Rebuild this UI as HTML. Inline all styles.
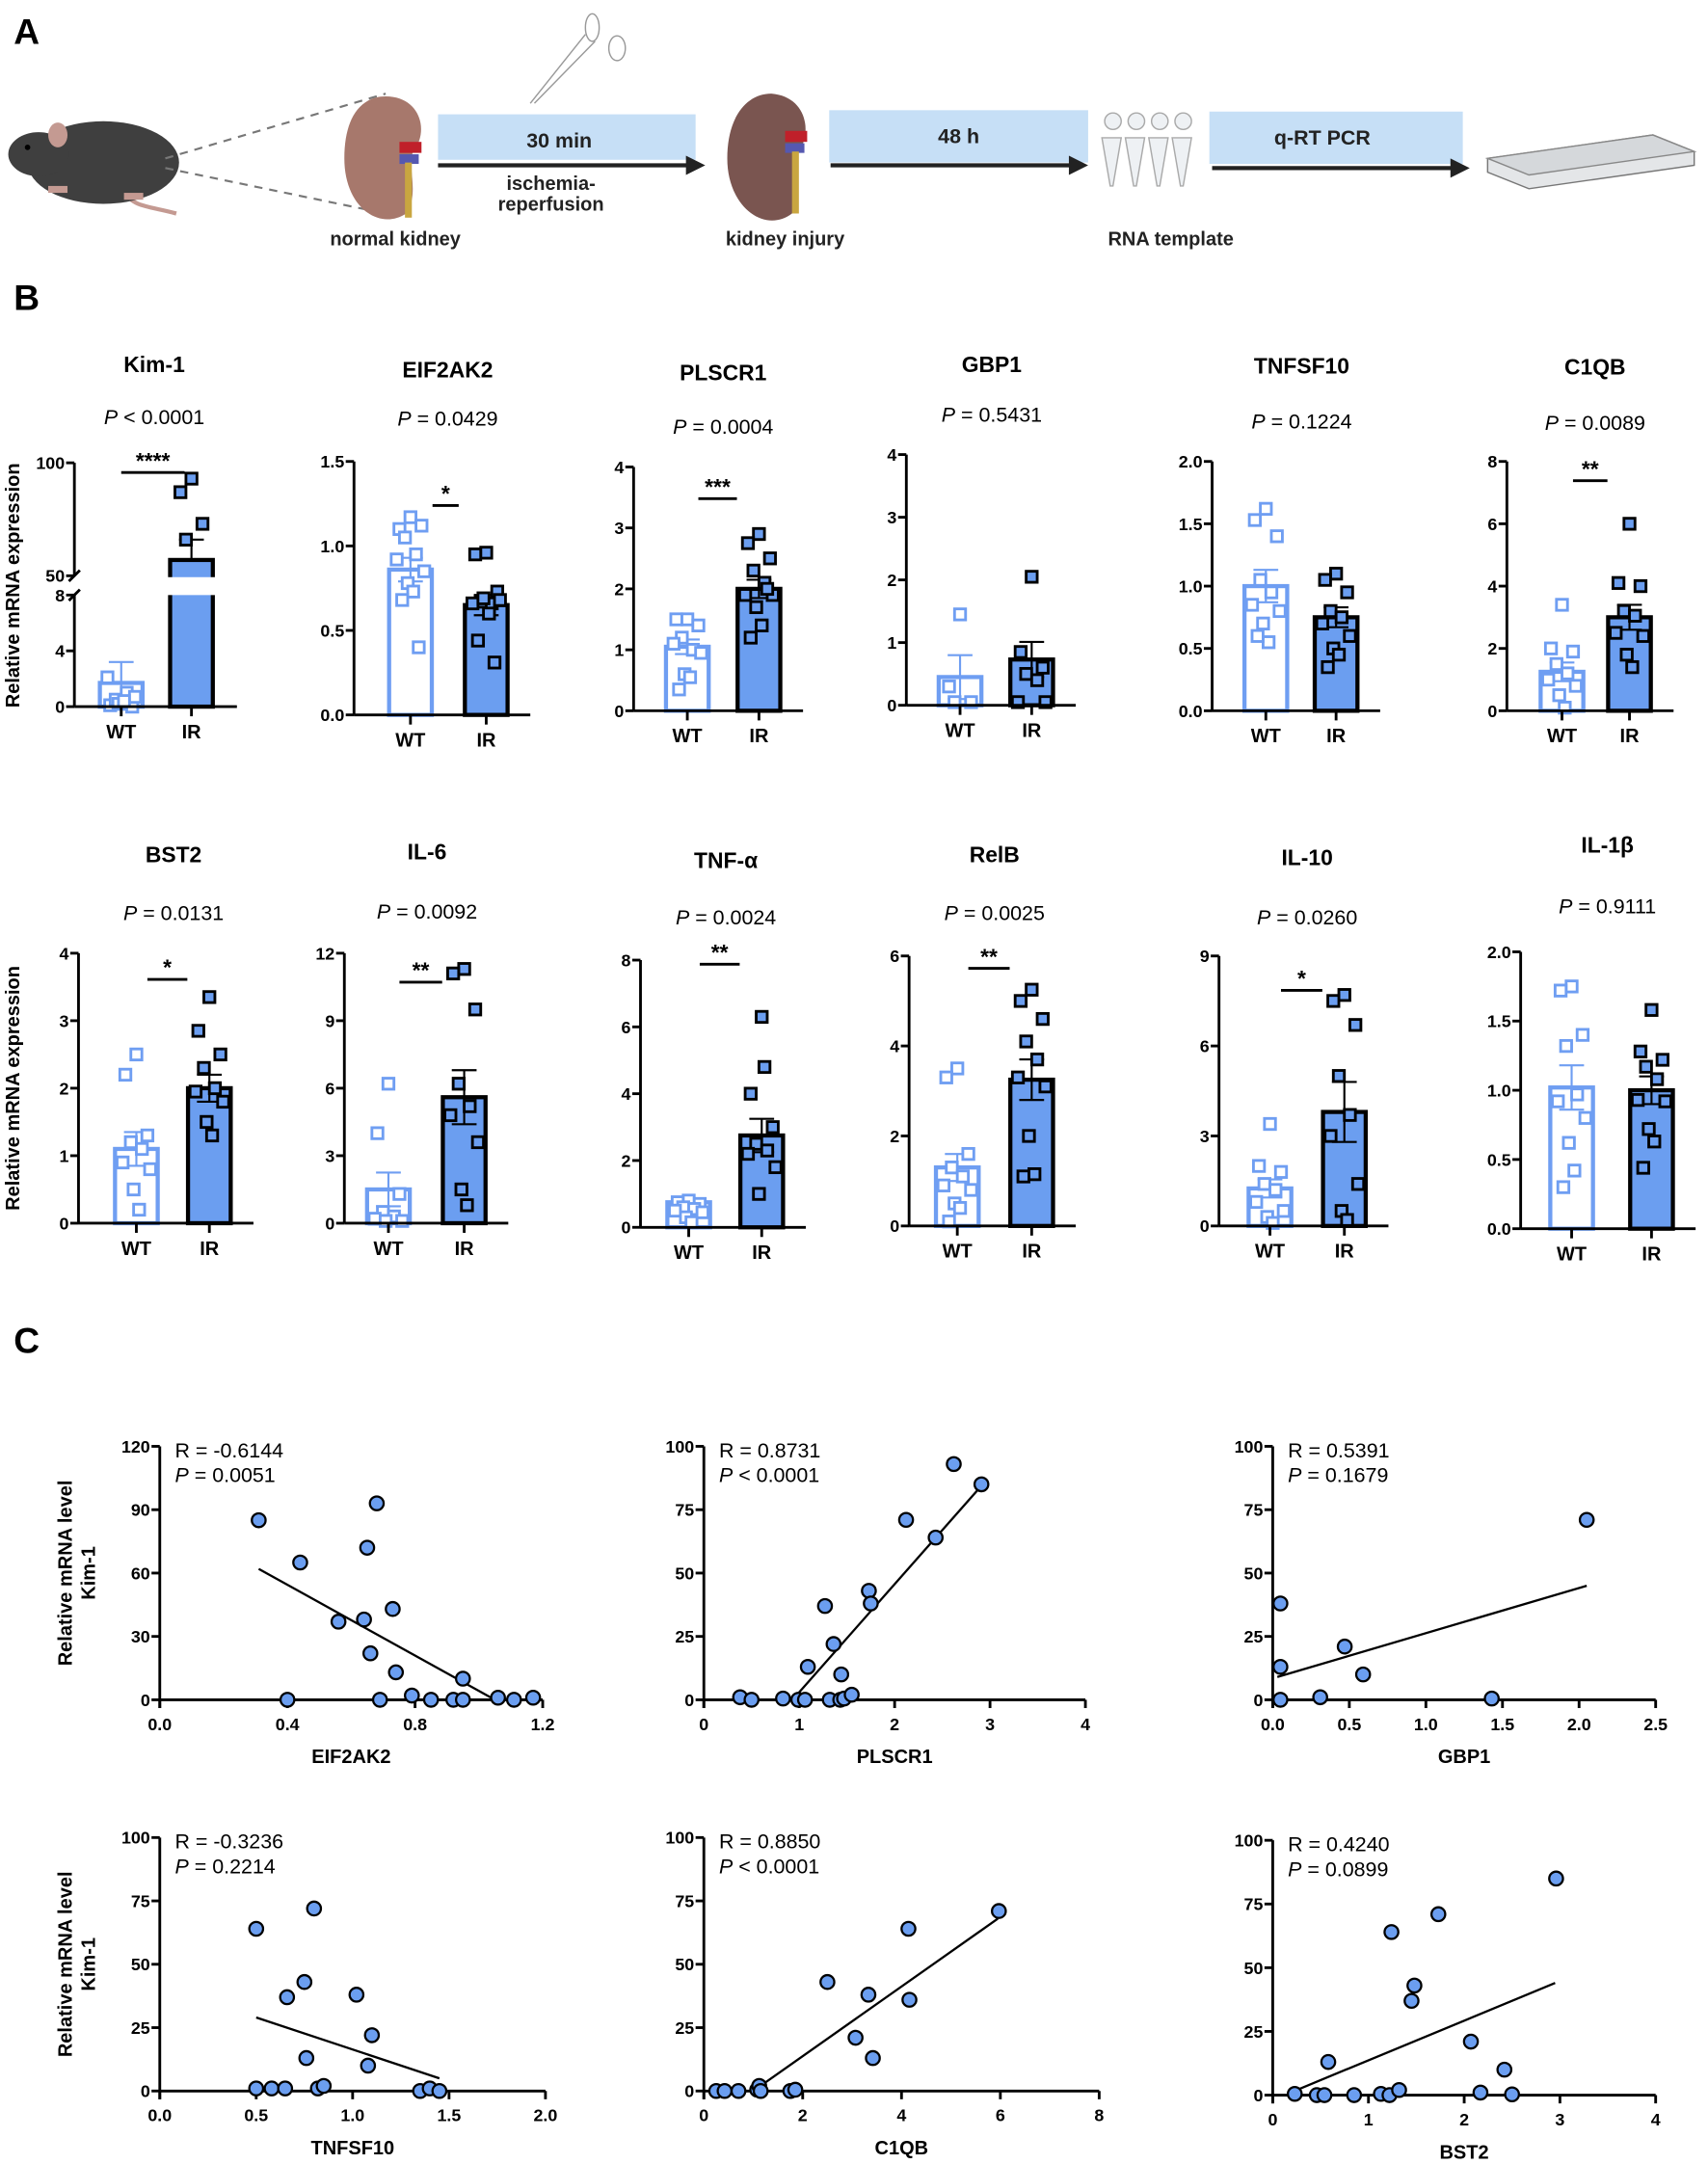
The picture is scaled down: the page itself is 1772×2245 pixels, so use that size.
<!DOCTYPE html>
<html><head><meta charset="utf-8"><title>Kidney IR figure</title>
<style>
html,body{margin:0;padding:0;background:#fff;}
svg{display:block;font-family:"Liberation Sans",Arial,sans-serif;}
.t{font-weight:bold;font-size:16px;text-anchor:middle;}
.p{font-size:15px;text-anchor:middle;}
.tick{font-weight:bold;font-size:12.5px;text-anchor:end;}
.xl{font-weight:bold;font-size:14px;text-anchor:middle;}
.lab{font-weight:bold;font-size:26px;}
.il{font-weight:bold;font-size:14px;text-anchor:middle;fill:#222;}
</style></head>
<body>
<svg id="fig" width="1772" height="2245" viewBox="0 0 1240 1571" xmlns="http://www.w3.org/2000/svg">
  <g>
    <text class="lab" x="10" y="32">A</text>
    <g>
      <path d="M128,155 C110,150 95,150 92,140" stroke="#c49a92" stroke-width="3" fill="none"/>
      <ellipse cx="75" cy="118" rx="55" ry="30" fill="#3f3f3f"/>
      <ellipse cx="28" cy="112" rx="22" ry="16" fill="#3f3f3f"/>
      <ellipse cx="42" cy="98" rx="7" ry="9" fill="#c49a92"/>
      <circle cx="20" cy="107" r="2" fill="#000"/>
      <rect x="35" y="135" width="14" height="5" fill="#c49a92"/>
      <rect x="90" y="140" width="14" height="5" fill="#c49a92"/>
    </g>
    <line x1="120" y1="115" x2="280" y2="68" stroke="#777" stroke-dasharray="6,5" stroke-width="1.5"/>
    <line x1="120" y1="122" x2="280" y2="155" stroke="#777" stroke-dasharray="6,5" stroke-width="1.5"/>
    <g>
      <path d="M280,70 C305,70 312,95 300,110 C295,120 305,140 295,155 C275,168 250,150 250,115 C250,85 262,70 280,70 Z" fill="#a7786c"/>
      <rect x="290" y="103" width="16" height="8" fill="#c0202a"/>
      <rect x="290" y="112" width="14" height="7" fill="#5558b0"/>
      <rect x="294" y="118" width="5" height="40" fill="#c9a640"/>
    </g>
    <text class="il" x="287" y="178">normal kidney</text>
    <rect x="318" y="83" width="187" height="33" fill="#c6dff6"/>
    <text class="il" x="406" y="107" style="font-size:15px">30 min</text>
    <line x1="318" y1="120" x2="500" y2="120" stroke="#222" stroke-width="3"/>
    <polygon points="498,113 512,120 498,127" fill="#222"/>
    <text class="il" x="400" y="138">ischemia-</text>
    <text class="il" x="400" y="153">reperfusion</text>
    <g stroke="#999" fill="none" stroke-width="1">
      <line x1="385" y1="75" x2="425" y2="25"/><line x1="388" y1="75" x2="432" y2="30"/>
      <ellipse cx="430" cy="20" rx="5" ry="10"/><ellipse cx="448" cy="35" rx="6" ry="9"/>
    </g>
    <g>
      <path d="M560,68 C585,70 590,95 580,110 C575,120 585,140 575,155 C555,170 528,150 528,115 C528,85 542,68 560,68 Z" fill="#7a5550"/>
      <rect x="570" y="95" width="16" height="8" fill="#c0202a"/>
      <rect x="570" y="104" width="14" height="7" fill="#5558b0"/>
      <rect x="575" y="110" width="5" height="45" fill="#c9a640"/>
    </g>
    <text class="il" x="570" y="178">kidney injury</text>
    <rect x="602" y="80" width="188" height="38" fill="#c6dff6"/>
    <text class="il" x="696" y="104" style="font-size:15px">48 h</text>
    <line x1="603" y1="120" x2="778" y2="120" stroke="#222" stroke-width="3"/>
    <polygon points="776,113 790,120 776,127" fill="#222"/>
    <g>
      <g fill="#eef1f4" stroke="#aaa">
        <path d="M800,100 h14 l-6,35 h-2 z"/><path d="M817,100 h14 l-6,35 h-2 z"/><path d="M834,100 h14 l-6,35 h-2 z"/><path d="M851,100 h14 l-6,35 h-2 z"/>
        <circle cx="808" cy="88" r="6"/><circle cx="825" cy="88" r="6"/><circle cx="842" cy="88" r="6"/><circle cx="859" cy="88" r="6"/>
      </g>
    </g>
    <text class="il" x="850" y="178">RNA template</text>
    <rect x="878" y="81" width="184" height="38" fill="#c6dff6"/>
    <text class="il" x="960" y="105" style="font-size:15px">q-RT PCR</text>
    <line x1="880" y1="122" x2="1055" y2="122" stroke="#222" stroke-width="3"/>
    <polygon points="1053,115 1067,122 1053,129" fill="#222"/>
    <g>
      <polygon points="1080,115 1200,98 1230,110 1230,120 1110,137 1080,125" fill="#e4e6e8" stroke="#777"/>
      <polygon points="1080,115 1200,98 1230,110 1110,127" fill="#d5d8db" stroke="#888"/>
    </g>
  </g>
  <text class="lab" x="10" y="225">B</text>
  <text class="lab" x="10" y="982">C</text>
  <g id="bars"></g>
  <g id="scat"></g>
</svg>
<script>
const kimWT = [0.3,0.1,0,0.5,1.0,2.1,0.7,0.2,0.4];
const kimIR = [93,87,73,66];
const kimStats = [1.7,1.5,57,9];
const eifWT = [1.17,1.1,1.12,1.05,0.95,0.92,0.85,0.78,0.73,0.68,0.4];
const eifIR = [0.96,0.95,0.73,0.67,0.66,0.66,0.68,0.69,0.6,0.44,0.31];
const eifStats = [0.86,0.07,0.65,0.06];
const plsWT = [1.5,1.5,1.4,1.2,1.0,1.1,0.95,0.6,0.55,0.35];
const plsIR = [2.9,2.75,2.5,2.3,2.1,1.9,1.9,1.7,1.4,1.2,2.0];
const plsStats = [1.05,0.12,2.0,0.15];
const gbpWT = [1.45,0.3,0.05,0.05];
const gbpIR = [2.05,0.85,0.6,0.5,0.4,0.05,0.05];
const gbpStats = [0.45,0.35,0.73,0.28];
const tnfsfWT = [1.62,1.53,1.4,1.05,0.95,0.85,0.8,0.7,0.55,0.6];
const tnfsfIR = [1.1,1.05,0.95,0.8,0.75,0.7,0.6,0.5,0.45,0.35];
const tnfsfStats = [1.0,0.13,0.75,0.08];
const c1qbWT = [3.4,2,1.9,1.5,1.2,1.0,0.8,0.5,0.1];
const c1qbIR = [6,4.1,4.0,3.2,3.05,2.5,2.4,1.8,1.4];
const c1qbStats = [1.25,0.3,3.0,0.4];
const bstWT = [2.5,2.2,1.3,1.2,1.1,0.9,0.8,0.5,0.2];
const bstIR = [3.35,2.85,2.5,2.3,2.0,1.95,1.8,1.5,1.3];
const bstStats = [1.1,0.25,2.0,0.2];
const il6WT = [6.2,4.0,1.3,0.5,0.3,0.2,0.1,0.1];
const il6IR = [11.3,11.1,9.5,6.2,5.2,4.8,3.6,1.5,0.8];
const il6Stats = [1.5,0.75,5.6,1.2];
const tnfaWT = [0.8,0.75,0.7,0.6,0.55,0.5,0.45,0.3,0.15];
const tnfaIR = [6.3,4.0,3.0,2.5,2.3,2.2,1.8,1.0,4.8];
const tnfaStats = [0.75,0.1,2.75,0.5];
const relbWT = [3.5,3.3,1.6,1.3,1.1,0.9,0.8,0.5,0.4,0.1];
const relbIR = [5.25,5.0,4.6,4.1,3.7,3.3,3.1,2.0,1.15,1.1];
const relbStats = [1.3,0.3,3.25,0.45];
const il10WT = [3.4,2.0,1.8,1.4,1.2,0.8,0.5,0.3,0.1];
const il10IR = [7.7,7.5,6.7,5.0,3.7,3.0,1.4,0.5,0.2];
const il10Stats = [1.25,0.3,3.8,1.0];
const il1bWT = [1.75,1.72,1.4,1.32,0.97,0.92,0.8,0.62,0.42,0.3];
const il1bIR = [1.58,1.28,1.22,1.17,1.08,0.93,0.92,0.72,0.63,0.44];
const il1bStats = [1.02,0.16,1.0,0.1];
const barTitles = ["Kim-1","EIF2AK2","PLSCR1","GBP1","TNFSF10","C1QB","BST2","IL-6","TNF-α","RelB","IL-10","IL-1β"];
const barPvals = ["< 0.0001","= 0.0429","= 0.0004","= 0.5431","= 0.1224","= 0.0089","= 0.0131","= 0.0092","= 0.0024","= 0.0025","= 0.0260","= 0.9111"];
const barStars = ["****","*","***","","","**","*","**","**","**","*",""];
const tickEIF = ["0.0","0.5","1.0","1.5"];
const tickPLS = ["0","1","2","3","4"];
const tickTNFSF = ["0.0","0.5","1.0","1.5","2.0"];
const tickC1QB = ["0","2","4","6","8"];
const tickIL6 = ["0","3","6","9","12"];
const tickRELB = ["0","2","4","6"];
const tickIL10 = ["0","3","6","9"];

const L = [
 {ax:54,y0:513,yt:336,tx:112,ty:270,py:308,wt:88,ir:139,xe:172,sy:343},
 {ax:257,y0:519,yt:335,tx:325,ty:274,py:309,wt:298,ir:353,xe:385,sy:367},
 {ax:460,y0:516,yt:339,tx:525,ty:276,py:315,wt:499,ir:551,xe:583,sy:362},
 {ax:658,y0:512,yt:330,tx:720,ty:270,py:306,wt:697,ir:749,xe:781,sy:0},
 {ax:880,y0:516,yt:335,tx:945,ty:271,py:311,wt:919,ir:970,xe:1002,sy:0},
 {ax:1094,y0:516,yt:335,tx:1158,ty:272,py:312,wt:1134,ir:1183,xe:1215,sy:349},
 {ax:57,y0:888,yt:692,tx:126,ty:626,py:668,wt:99,ir:152,xe:184,sy:711},
 {ax:250,y0:888,yt:692,tx:310,ty:624,py:667,wt:282,ir:337,xe:369,sy:713},
 {ax:465,y0:891,yt:697,tx:527,ty:630,py:671,wt:500,ir:553,xe:585,sy:700},
 {ax:660,y0:890,yt:694,tx:722,ty:626,py:668,wt:695,ir:749,xe:781,sy:703},
 {ax:885,y0:890,yt:694,tx:949,ty:628,py:671,wt:922,ir:976,xe:1008,sy:719},
 {ax:1104,y0:892,yt:691,tx:1167,ty:619,py:663,wt:1141,ir:1199,xe:1231,sy:0}
];
const barData = [
 [kimWT,kimIR,kimStats,null],
 [eifWT,eifIR,eifStats,tickEIF],
 [plsWT,plsIR,plsStats,tickPLS],
 [gbpWT,gbpIR,gbpStats,tickPLS],
 [tnfsfWT,tnfsfIR,tnfsfStats,tickTNFSF],
 [c1qbWT,c1qbIR,c1qbStats,tickC1QB],
 [bstWT,bstIR,bstStats,tickPLS],
 [il6WT,il6IR,il6Stats,tickIL6],
 [tnfaWT,tnfaIR,tnfaStats,tickC1QB],
 [relbWT,relbIR,relbStats,tickRELB],
 [il10WT,il10IR,il10Stats,tickIL10],
 [il1bWT,il1bIR,il1bStats,tickTNFSF]
];

const kimY1 = [85,65,0,37,38,72,22,93,0,43,13,2,0,0,10,0,1,0,1];
const eifX1 = [0.31,0.44,0.40,0.56,0.64,0.65,0.66,0.68,0.69,0.73,0.74,0.79,0.85,0.92,0.95,0.95,1.06,1.11,1.17];
const plsX = [0.38,0.5,0.83,0.99,1.06,1.09,1.27,1.32,1.36,1.43,1.44,1.47,1.55,1.73,1.75,2.12,2.43,2.62,2.91];
const plsY = [1,0,0.5,0,0,13,37,0,22,0,10,0.5,2,43,38,71,64,93,85];
const gbpX = [0.05,0.05,0.05,0.31,0.47,0.59,1.43,2.05];
const gbpY = [38,13,0,1,21,10,0.5,71];
const tnfX = [0.5,0.5,0.58,0.65,0.66,0.75,0.76,0.8,0.82,0.85,1.02,1.08,1.1,1.35,1.4,1.45];
const tnfY = [64,1,1,1,37,43,13,72,1,2,38,10,22,0,1,0];
const c1qX = [0.25,0.42,0.7,1.08,1.12,1.15,1.75,1.85,2.5,3.07,3.33,3.42,4.14,4.16,5.97];
const c1qY = [0,0,0,0.5,2,0,0,0.5,43,21,38,13,64,36,71];
const bstX = [0.23,0.46,0.54,0.58,0.85,1.13,1.22,1.24,1.32,1.45,1.48,1.73,2.07,2.17,2.42,2.5,2.96];
const bstY = [0.5,0,0,13,0,0.5,0,64,2,37,43,71,21,1,10,0.3,85];
const fitLines = [[0.31,62,1.05,0],[0.93,0,2.9,84],[0.03,9,2.05,45],[0.5,29,1.45,5],[1.0,0,5.95,68],[0.25,2,2.95,44]];
const scatR = ["R = -0.6144","R = 0.8731","R = 0.5391","R = -0.3236","R = 0.8850","R = 0.4240"];
const scatP = ["= 0.0051","< 0.0001","= 0.1679","= 0.2214","< 0.0001","= 0.0899"];
const scatXlab = ["EIF2AK2","PLSCR1","GBP1","TNFSF10","C1QB","BST2"];
const xTicks = [["0.0","0.4","0.8","1.2"],["0","1","2","3","4"],["0.0","0.5","1.0","1.5","2.0","2.5"],["0.0","0.5","1.0","1.5","2.0"],["0","2","4","6","8"],["0","1","2","3","4"]];
const yTicks1 = ["0","30","60","90","120"];
const yTicks2 = ["0","25","50","75","100"];
const scatData = [[eifX1,kimY1],[plsX,plsY],[gbpX,gbpY],[tnfX,tnfY],[c1qX,c1qY],[bstX,bstY]];
const SL = [
 {ax:116,xe:394,y0:1234,yt:1050},
 {ax:511,xe:788,y0:1234,yt:1050},
 {ax:924,xe:1202,y0:1234,yt:1050},
 {ax:116,xe:396,y0:1518,yt:1334},
 {ax:511,xe:798,y0:1518,yt:1334},
 {ax:924,xe:1202,y0:1521,yt:1336}
];

const NS="http://www.w3.org/2000/svg";
function mk(parent,tag,attrs,txt){const e=document.createElementNS(NS,tag);for(const k in attrs)e.setAttribute(k,attrs[k]);if(txt!==undefined)e.textContent=txt;parent.appendChild(e);return e;}
const LB="#6f9ef2", IRF="#6b9ef0";
const bars=document.getElementById('bars');
const scat=document.getElementById('scat');

barData.forEach((d,i)=>{
  const l=L[i], wt=d[0], ir=d[1], st=d[2], ticks=d[3];
  const g=mk(bars,'g',{});
  
  
  let y;
  if(i===0){
    y=v=> v<=8 ? l.y0-v/8*81 : (v<50 ? null : 418-(v-50)/50*82);
  } else {
    const max=parseFloat(ticks[ticks.length-1]);
    y=v=> l.y0-v/max*(l.y0-l.yt);
  }
  const t=mk(g,'text',{class:'t',x:l.tx,y:l.ty},barTitles[i]);
  
  
  const p=mk(g,'text',{class:'p',x:l.tx,y:l.py});
  
  
  mk(p,'tspan',{'font-style':'italic'},'P');
  mk(p,'tspan',{},' '+barPvals[i]);
  const bw=34;
  const wtB=mk(g,'rect',{x:l.wt-bw/2+1.5,y:y(st[0]),width:bw-3,height:l.y0-y(st[0]),fill:'#fff',stroke:LB,'stroke-width':3});
  
  
  const irB=mk(g,'rect',{x:l.ir-bw/2+1.5,y:y(st[2]),width:bw-3,height:l.y0-y(st[2]),fill:IRF,stroke:'#000','stroke-width':3});
  
  
  if(i===0){ mk(g,'rect',{x:l.ir-bw/2-2,y:419,width:bw+4,height:13,fill:'#fff'}); }
  [[l.wt,st[0],st[1],LB],[l.ir,st[2],st[3],'#000']].forEach(e=>{
    const eg=mk(g,'g',{stroke:e[3],'stroke-width':1.5});
    
    
    const top=y(e[1]+e[2]), bot=y(Math.max(0,e[1]-e[2]));
    mk(eg,'line',{x1:e[0],x2:e[0],y1:top,y2:(i===0&&e[3]=='#000')?y(e[1]):bot});
    mk(eg,'line',{x1:e[0]-9,x2:e[0]+9,y1:top,y2:top});
    if(!(i===0&&e[3]=='#000')) mk(eg,'line',{x1:e[0]-9,x2:e[0]+9,y1:bot,y2:bot});
  });
  const off=[0,-8,8,-4,4,-10,10,-2,2,-6,6];
  wt.forEach((v,k)=>{const yy=y(v); if(yy===null)return;
    const r=mk(g,'rect',{x:l.wt+off[k%off.length]-4,y:yy-4,width:8,height:8,fill:'#fff',stroke:LB,'stroke-width':2});
    
    });
  ir.forEach((v,k)=>{const yy=y(v); if(yy===null)return;
    const r=mk(g,'rect',{x:l.ir+off[k%off.length]-4,y:yy-4,width:8,height:8,fill:IRF,stroke:'#000','stroke-width':2});
    
    });
  const ag=mk(g,'g',{stroke:'#000','stroke-width':2});
  
  
  if(i===0){
    mk(ag,'line',{x1:l.ax,x2:l.ax,y1:l.y0,y2:432});
    mk(ag,'line',{x1:l.ax,x2:l.ax,y1:418,y2:336});
    mk(ag,'line',{x1:l.ax-4,x2:l.ax+4,y1:436,y2:428});
    mk(ag,'line',{x1:l.ax-4,x2:l.ax+4,y1:422,y2:414});
    [0,4,8,50,100].forEach(v=>{mk(ag,'line',{x1:l.ax-6,x2:l.ax,y1:y(v),y2:y(v)});
      const tt=mk(g,'text',{class:'tick',x:l.ax-7,y:y(v)+4.5},String(v));
      
      });
  } else {
    mk(ag,'line',{x1:l.ax,x2:l.ax,y1:l.y0,y2:l.yt});
    ticks.forEach(s=>{const yy=y(parseFloat(s));mk(ag,'line',{x1:l.ax-6,x2:l.ax,y1:yy,y2:yy});
      const tt=mk(g,'text',{class:'tick',x:l.ax-7,y:yy+4.5},s);
      
      });
  }
  mk(ag,'line',{x1:l.ax,x2:l.xe,y1:l.y0,y2:l.y0});
  mk(ag,'line',{x1:l.wt,x2:l.wt,y1:l.y0,y2:l.y0+7});
  mk(ag,'line',{x1:l.ir,x2:l.ir,y1:l.y0,y2:l.y0+7});
  const x1=mk(g,'text',{class:'xl',x:l.wt,y:l.y0+23},'WT');
  
  
  const x2=mk(g,'text',{class:'xl',x:l.ir,y:l.y0+23},'IR');
  
  
  if(barStars[i]){
    const sg=mk(g,'g',{});
    
    
    let xa=l.wt+8, xb=l.ir-16;
    if(i===0){xa=l.wt;xb=l.ir-5;}
    if(i===1){xa=l.wt+16;xb=l.ir-20;}
    mk(sg,'line',{x1:xa,x2:xb,y1:l.sy,y2:l.sy,stroke:'#000','stroke-width':2});
    mk(sg,'text',{x:(xa+xb)/2,y:l.sy-3,'text-anchor':'middle','font-weight':'bold','font-size':'16px'},barStars[i]);
  }
});
[[14,425],[14,790]].forEach(c=>{
  const yt=mk(bars,'text',{x:c[0],y:c[1],transform:'rotate(-90 '+c[0]+' '+c[1]+')','text-anchor':'middle','font-weight':'bold','font-size':'14px'},'Relative mRNA expression');
  
  
});

scatData.forEach((d,i)=>{
  const l=SL[i], xs=d[0], ys=d[1], xt=xTicks[i], yt=(i===0?yTicks1:yTicks2);
  const g=mk(scat,'g',{});
  
  
  const xmax=parseFloat(xt[xt.length-1]), ymax=parseFloat(yt[yt.length-1]);
  const X=v=>l.ax+v/xmax*(l.xe-l.ax), Y=v=>l.y0-v/ymax*(l.y0-l.yt);
  const ag=mk(g,'g',{stroke:'#000','stroke-width':2});
  
  
  mk(ag,'line',{x1:l.ax,x2:l.ax,y1:l.y0+6,y2:l.yt});
  mk(ag,'line',{x1:l.ax,x2:l.xe,y1:l.y0,y2:l.y0});
  yt.forEach(s=>{const yy=Y(parseFloat(s));mk(ag,'line',{x1:l.ax-6,x2:l.ax,y1:yy,y2:yy});
    const tt=mk(g,'text',{class:'tick',x:l.ax-7,y:yy+4.5},s);
    
    });
  xt.forEach(s=>{const xx=X(parseFloat(s));mk(ag,'line',{x1:xx,x2:xx,y1:l.y0,y2:l.y0+6});
    const tt=mk(g,'text',{class:'tick',x:xx,y:l.y0+22,style:'text-anchor:middle'},s);
    
    });
  const f=fitLines[i];
  const fl=mk(g,'line',{x1:X(f[0]),y1:Y(f[1]),x2:X(f[2]),y2:Y(f[3]),stroke:'#000','stroke-width':1.6});
  
  
  xs.forEach((v,k)=>{
    const c=mk(g,'circle',{cx:X(v),cy:Y(ys[k]),r:5,fill:'#6b9ef0',stroke:'#000','stroke-width':1.6});
    
    
  });
  const r=mk(g,'text',{x:l.ax+11,y:l.yt+8,'font-size':'15px'},scatR[i]);
  
  
  const p=mk(g,'text',{x:l.ax+11,y:l.yt+26,'font-size':'15px'});
  
  
  mk(p,'tspan',{'font-style':'italic'},'P');
  mk(p,'tspan',{},' '+scatP[i]);
  const xl=mk(g,'text',{class:'xl',x:(l.ax+l.xe)/2,y:l.y0+46},scatXlab[i]);
  
  
});
[[1142],[1426]].forEach(c=>{
  const a=mk(scat,'text',{x:52,y:c[0],transform:'rotate(-90 52 '+c[0]+')','text-anchor':'middle','font-weight':'bold','font-size':'14px'},'Relative mRNA level');
  
  
  const b=mk(scat,'text',{x:69,y:c[0],transform:'rotate(-90 69 '+c[0]+')','text-anchor':'middle','font-weight':'bold','font-size':'14px'},'Kim-1');
  
  
});
</script>
</body></html>
